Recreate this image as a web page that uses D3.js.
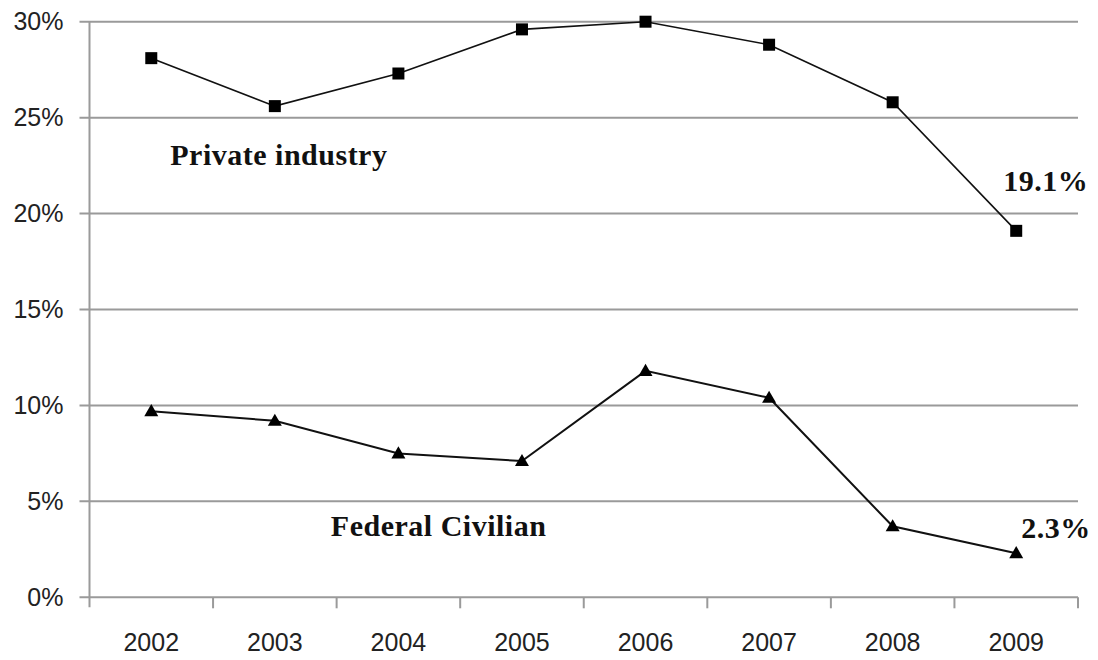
<!DOCTYPE html>
<html><head><meta charset="utf-8">
<script src="https://cdn.jsdelivr.net/npm/d3@7"></script>
<style>
body{margin:0;background:#fff;}
svg{display:block;}
</style></head>
<body>
<svg id="chart" width="1098" height="660"></svg>
<script>
const years = ["2002","2003","2004","2005","2006","2007","2008","2009"];
const privateIndustry = [28.1, 25.6, 27.3, 29.6, 30.0, 28.8, 25.8, 19.1];
const federalCivilian = [9.7, 9.2, 7.5, 7.1, 11.8, 10.4, 3.7, 2.3];
const yTicks = [0, 5, 10, 15, 20, 25, 30];
const seriesLabels = ["Private industry", "Federal Civilian"];
const endLabels = ["19.1%", "2.3%"];

const svg = d3.select("#chart");
const m = {left: 89.5, right: 20, top: 21.7, bottom: 62.7};
const W = 1098 - m.left - m.right, H = 660 - m.top - m.bottom;
const g = svg.append("g").attr("transform", `translate(${m.left},${m.top})`);

const x = d3.scaleBand().domain(years).range([0, W]).padding(0);
const y = d3.scaleLinear().domain([0, 30]).range([H, 0]);
const cx = d => x(d) + x.bandwidth() / 2;
const gridColor = "#9a9a9a";

// gridlines + y ticks
g.append("g").selectAll("line").data(yTicks).join("line")
  .attr("x1", -10).attr("x2", W)
  .attr("y1", d => y(d)).attr("y2", d => y(d))
  .attr("stroke", gridColor).attr("stroke-width", 2);

// y axis line
g.append("line").attr("x1", 0).attr("x2", 0).attr("y1", 0).attr("y2", H + 10)
  .attr("stroke", gridColor).attr("stroke-width", 2);

// y labels
const yAxis = d3.axisLeft(y).tickValues(yTicks).tickSize(0).tickPadding(26)
  .tickFormat(d => d + "%");
const ya = g.append("g").call(yAxis);
ya.select(".domain").remove();
ya.selectAll("text").attr("font-family", "'Liberation Sans', Arial, sans-serif")
  .attr("font-size", 25).attr("fill", "#222");

// x boundary ticks
const bounds = years.map(d => x(d)).concat([x(years[years.length-1]) + x.bandwidth()]);
g.append("g").selectAll("line").data(bounds.slice(1)).join("line")
  .attr("x1", d => d).attr("x2", d => d).attr("y1", H).attr("y2", H + 11)
  .attr("stroke", gridColor).attr("stroke-width", 2);

// x labels
const xAxis = d3.axisBottom(x).tickSize(0).tickPadding(36);
const xa = g.append("g").attr("transform", `translate(0,${H})`).call(xAxis);
xa.select(".domain").remove();
xa.selectAll("text").attr("font-family", "'Liberation Sans', Arial, sans-serif")
  .attr("font-size", 25).attr("fill", "#222");

// lines
const line = d3.line().x((d, i) => cx(years[i])).y(d => y(d));
g.append("path").datum(privateIndustry).attr("d", line)
  .attr("fill", "none").attr("stroke", "#111").attr("stroke-width", 1.6);
g.append("path").datum(federalCivilian).attr("d", line)
  .attr("fill", "none").attr("stroke", "#111").attr("stroke-width", 2);

// markers
g.append("g").selectAll("rect").data(privateIndustry).join("rect")
  .attr("x", (d, i) => cx(years[i]) - 6).attr("y", d => y(d) - 6)
  .attr("width", 12).attr("height", 12).attr("fill", "#000");
const tri = d3.symbol().type(d3.symbolTriangle).size(85);
g.append("g").selectAll("path").data(federalCivilian).join("path")
  .attr("d", tri)
  .attr("transform", (d, i) => `translate(${cx(years[i])},${y(d) + 1})`)
  .attr("fill", "#000");

// annotations
const serif = "'Liberation Serif', 'Times New Roman', serif";
const ann = [
  {t: seriesLabels[0], x: cx(years[0]) + 19, y: y(privateIndustry[1]) + 59},
  {t: seriesLabels[1], x: cx(years[1]) + 56, y: y(federalCivilian[6]) + 10},
  {t: endLabels[0], x: cx(years[7]) - 13, y: y(privateIndustry[7]) - 40},
  {t: endLabels[1], x: cx(years[7]) + 5, y: y(federalCivilian[7]) - 15}
];
g.append("g").selectAll("text").data(ann).join("text")
  .attr("x", d => d.x).attr("y", d => d.y).text(d => d.t)
  .attr("font-family", serif).attr("font-weight", "bold")
  .attr("font-size", 30).attr("letter-spacing", 0.5).attr("fill", "#111");
</script>
</body></html>
